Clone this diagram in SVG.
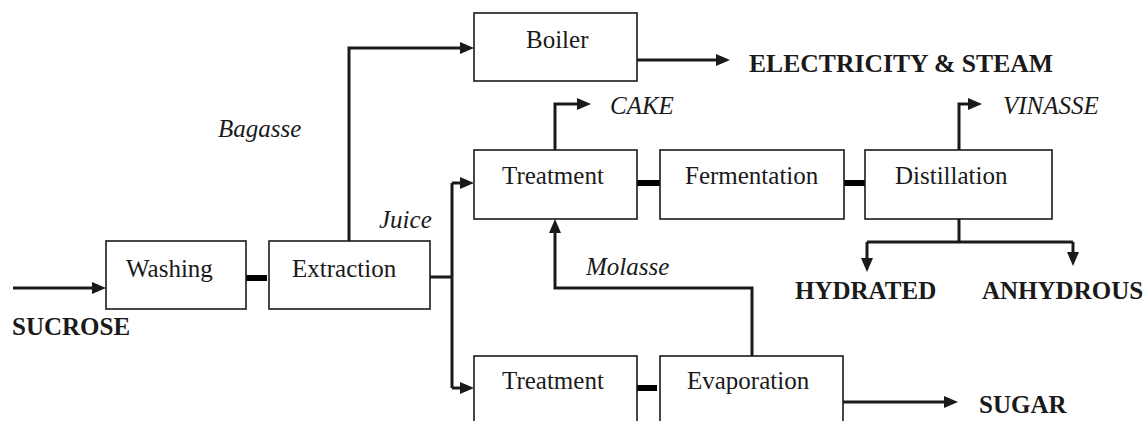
<svg xmlns="http://www.w3.org/2000/svg" width="1144" height="421" viewBox="0 0 1144 421">
<style>
.box{fill:#fff;stroke:#1a1a1a;stroke-width:1.6}
.t{font-family:'Liberation Serif','DejaVu Serif','Noto Serif',serif;font-size:25px;fill:#1a1a1a}
.b{font-weight:bold}
.i{font-style:italic}
.ln{fill:none;stroke:#1a1a1a;stroke-width:3}
.arr{fill:none;stroke:#1a1a1a;stroke-width:3;marker-end:url(#ah)}
.bar{fill:none;stroke:#000;stroke-width:6}
</style>
<defs>
<marker id="ah" markerWidth="14" markerHeight="12" refX="6" refY="6" orient="auto" markerUnits="userSpaceOnUse">
<path d="M0,0 L14,6 L0,12 Z" fill="#1a1a1a"/>
</marker>
</defs>
<rect width="1144" height="421" fill="#fff"/>

<g id="connectors">
<path class="arr" d="M13,288 H98"/>
<path class="arr" d="M349,241 V48 H466"/>
<path class="arr" d="M637,60 H722"/>
<path class="ln" d="M430,277 H452 M452,183 V388"/>
<path class="arr" d="M452,183 H466"/>
<path class="arr" d="M452,388 H466"/>
<path class="arr" d="M555,150 V104 H583"/>
<path class="arr" d="M959,150 V104 H974"/>
<path class="ln" d="M959,219 V242 M867,242 H1073"/>
<path class="arr" d="M867,242 V264"/>
<path class="arr" d="M1073,242 V258"/>
<path class="arr" d="M752,356 V288 H555 V227"/>
<path class="arr" d="M843,402 H950"/>
<path class="bar" d="M243,278 H267 M637,183 H660 M844,183 H865 M633,388 H657"/>
<text class="t i" x="218" y="137" font-family="Liberation Serif, serif">Bagasse</text>
<text class="t i" x="379" y="228" font-family="Liberation Serif, serif">Juice</text>
<text class="t i" x="586" y="275" font-family="Liberation Serif, serif">Molasse</text>
</g>

<g id="sucrose"><text class="t b" x="12" y="335">SUCROSE</text></g>
<g id="washing"><rect class="box" x="106" y="241" width="140" height="68"/><text class="t" x="126" y="277">Washing</text></g>
<g id="extraction"><rect class="box" x="269" y="241" width="161" height="68"/><text class="t" x="292" y="277">Extraction</text></g>
<g id="boiler"><rect class="box" x="474" y="13" width="163" height="68"/><text class="t" x="526" y="48">Boiler</text></g>
<g id="electricity"><text class="t b" x="749" y="72" textLength="304" lengthAdjust="spacingAndGlyphs">ELECTRICITY &amp; STEAM</text></g>
<g id="treatment1"><rect class="box" x="474" y="150" width="163" height="69"/><text class="t" x="502" y="184">Treatment</text></g>
<g id="cake"><text class="t i" x="610" y="114">CAKE</text></g>
<g id="fermentation"><rect class="box" x="660" y="150" width="184" height="69"/><text class="t" x="685" y="184">Fermentation</text></g>
<g id="distillation"><rect class="box" x="865" y="150" width="187" height="69"/><text class="t" x="895" y="184">Distillation</text></g>
<g id="vinasse"><text class="t i" x="1003" y="114">VINASSE</text></g>
<g id="hydrated"><text class="t b" x="795" y="299">HYDRATED</text></g>
<g id="anhydrous"><text class="t b" x="982" y="299">ANHYDROUS</text></g>
<g id="treatment2"><rect class="box" x="474" y="356" width="163" height="90"/><text class="t" x="502" y="389">Treatment</text></g>
<g id="evaporation"><rect class="box" x="660" y="356" width="183" height="90"/><text class="t" x="687" y="389">Evaporation</text></g>
<g id="sugar"><text class="t b" x="979" y="413">SUGAR</text></g>
</svg>
